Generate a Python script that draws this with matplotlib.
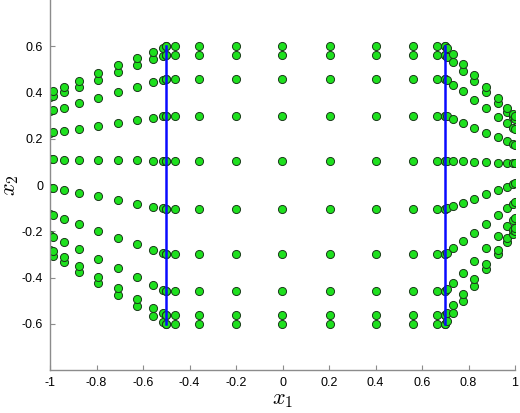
import numpy as np
import matplotlib.pyplot as plt

plt.rcParams['mathtext.fontset'] = 'cm'

# Noduri de referinta pe [-1, 1] (citite de pe grila din mijloc, y / 0.6)
eta = np.array([-1.0, -0.940, -0.766, -0.5, -0.174, 0.174, 0.5, 0.766, 0.940, 1.0])

# Element stanga: coloane x si capetele de jos / sus ale fiecarei coloane
x_left = [-1.0, -0.985, -0.9415, -0.875, -0.793, -0.707, -0.625, -0.559, -0.515, -0.5]
lo_left = [-0.3, -0.309, -0.335, -0.375, -0.424, -0.476, -0.525, -0.565, -0.591, -0.6]
hi_left = [0.4, 0.406, 0.423, 0.45, 0.483, 0.517, 0.55, 0.577, 0.594, 0.6]

# Element din mijloc
x_mid = [-0.5, -0.464, -0.36, -0.2, -0.004, 0.204, 0.4, 0.56, 0.664, 0.7]
lo_mid = [-0.6] * 10
hi_mid = [0.6] * 10

# Element dreapta
x_right = [0.7, 0.709, 0.735, 0.775, 0.824, 0.876, 0.925, 0.965, 0.991, 1.0]
lo_right = [-0.6, -0.588, -0.553, -0.5, -0.435, -0.365, -0.3, -0.247, -0.212, -0.2]
hi_right = [0.6, 0.591, 0.565, 0.525, 0.476, 0.424, 0.375, 0.335, 0.309, 0.3]

# Interfetele dintre elemente
x_iface = [-0.5, 0.7]
y_iface = [-0.6, 0.6]

x_ticks = [-1, -0.8, -0.6, -0.4, -0.2, 0, 0.2, 0.4, 0.6, 0.8, 1]
y_ticks = [-0.6, -0.4, -0.2, 0, 0.2, 0.4, 0.6]


def nodes(xs, lo, hi):
    """ Punctele unui element: fiecare coloana intre capetele ei. """
    px, py = [], []
    for x, a, b in zip(xs, lo, hi):
        px.extend([x] * len(eta))
        py.extend(a + (b - a) * (eta + 1) / 2)
    return px, py


fig = plt.figure(figsize=(5.2, 4.13), dpi=100)
ax = fig.add_axes([50 / 520, 1 - 370 / 413, 465 / 520, 370 / 413])

for xs, lo, hi in [(x_left, lo_left, hi_left), (x_mid, lo_mid, hi_mid),
                   (x_right, lo_right, hi_right)]:
    px, py = nodes(xs, lo, hi)
    ax.scatter(px, py, s=34, c='#1ee01e', edgecolors='#1a3a1a',
               linewidths=0.7, zorder=2)

for xi in x_iface:
    ax.plot([xi, xi], y_iface, c='#0a0aff', linewidth=1.8, zorder=3)

ax.set_xlim(-1, 1)
ax.set_ylim(-0.8, 0.8)
ax.set_xticks(x_ticks)
ax.set_xticklabels(['{:g}'.format(t) for t in x_ticks])
ax.set_yticks(y_ticks)
ax.set_yticklabels(['{:g}'.format(t) for t in y_ticks])

for s in ['top', 'right']:
    ax.spines[s].set_visible(False)
for s in ['left', 'bottom']:
    ax.spines[s].set_color('#8c8c8c')
    ax.spines[s].set_linewidth(1.0)
ax.tick_params(direction='in', length=3.5, width=0.8, color='#8c8c8c',
               labelsize=9, pad=5)
for lab in ax.get_xticklabels() + ax.get_yticklabels():
    lab.set_family('Liberation Sans')

ax.set_xlabel('$x_1$', fontsize=16, labelpad=1)
ax.set_ylabel('$x_2$', fontsize=16)
ax.yaxis.set_label_coords(-29 / 465, 0.5)  # Eticheta lipita de marginea stanga

fig.savefig('out.png', dpi=100)
